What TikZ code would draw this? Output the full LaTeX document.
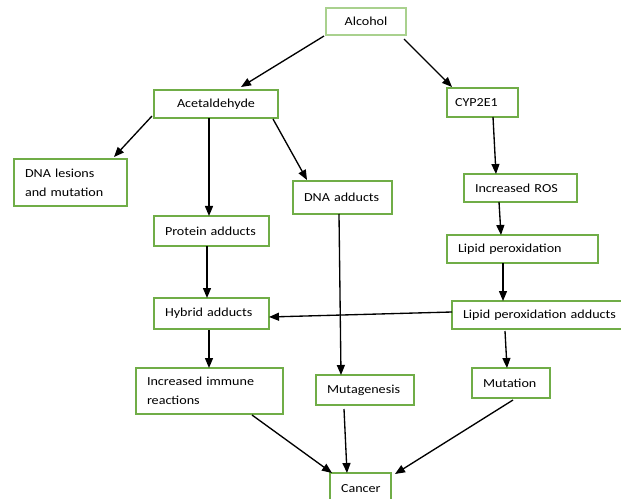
\documentclass[tikz,border=0pt]{standalone}
\usepackage{fontspec}
\setmainfont{Carlito}[FakeStretch=1.15]
\usetikzlibrary{calc,arrows.meta}
\newlength\pxu
\setlength\pxu{0.75pt}
\definecolor{boxgreen}{HTML}{70AD47}
\definecolor{lightgreen}{HTML}{A9D18E}
\tikzset{
  gbox/.style={draw=boxgreen, line width=1.5pt, anchor=north west, outer sep=0pt,
    inner xsep=8.25pt, inner ysep=0pt, align=left, text=black,
    font=\fontsize{9.2}{14.3}\selectfont},
  arr/.style={-{Triangle[length=7.5pt,width=6pt]}, line width=1pt, black}
}
\begin{document}
\begin{tikzpicture}[x=0.75pt,y=-0.75pt]
\useasboundingbox[fill=white] (0,0) rectangle (621,499);
\node[gbox, draw=lightgreen, minimum width=80\pxu, minimum height=27\pxu, align=center] (alc) at (326,8) {Alcohol};
\node[gbox, minimum width=124\pxu, minimum height=28\pxu, align=center] (acet) at (154,90) {Acetaldehyde};
\node[gbox, text width=55\pxu, minimum height=29\pxu, inner xsep=6pt] (cyp) at (447,88) {CYP2E1};
\node[gbox, text width=91\pxu, minimum height=47\pxu] (les) at (14,159) {DNA lesions\\and mutation};
\node[gbox, text width=93\pxu, minimum height=30\pxu] (prot) at (154,216) {Protein adducts};
\node[gbox, text width=77\pxu, minimum height=33\pxu] (dnaad) at (293,181) {DNA adducts};
\node[gbox, text width=91\pxu, minimum height=28\pxu] (ros) at (464,174) {Increased ROS};
\node[gbox, text width=129\pxu, minimum height=28\pxu] (lp) at (447,235) {Lipid peroxidation};
\node[gbox, text width=93\pxu, minimum height=31\pxu] (hyb) at (154,298) {Hybrid adducts};
\node[gbox, text width=153\pxu, minimum height=28\pxu] (lpa) at (452,301) {Lipid peroxidation adducts};
\node[gbox, text width=125\pxu, minimum height=46\pxu] (imm) at (136,368) {Increased immune\\reactions};
\node[gbox, text width=76\pxu, minimum height=30\pxu] (mutg) at (316,375) {Mutagenesis};
\node[gbox, text width=56\pxu, minimum height=30\pxu] (mut) at (472,368) {Mutation};
\node[gbox, text width=39\pxu, minimum height=32\pxu] (can) at (330,473) {Cancer};

\draw[arr] ($(alc.north west)+(-2,28)$) -- ($(acet.north west)+(87,-3)$);
\draw[arr] ($(alc.north west)+(78,31)$) -- ($(cyp.north west)+(5,-1)$);
\draw[arr] ($(acet.north west)+(-2,26)$) -- ($(les.north west)+(100,-2)$);
\draw[arr] ($(acet.north west)+(55,28)$) -- ($(prot.north west)+(55,0)$);
\draw[arr] ($(acet.north west)+(119,29)$) -- ($(dnaad.north west)+(14,-1)$);
\draw[arr] ($(cyp.north west)+(46,29)$) -- ($(ros.north west)+(32,0)$);
\draw[arr] ($(ros.north west)+(35,28)$) -- ($(lp.north west)+(54,0)$);
\draw[arr] ($(prot.north west)+(53,30)$) -- ($(hyb.north west)+(53,0)$);
\draw[arr] ($(lp.north west)+(56,28)$) -- ($(lpa.north west)+(51,0)$);
\draw[arr] ($(lpa.north west)+(0,11)$) -- ($(hyb.north west)+(115,19)$);
\draw[arr] ($(dnaad.north west)+(46,33)$) -- ($(mutg.north west)+(25,0)$);
\draw[arr] ($(hyb.north west)+(55,32)$) -- ($(imm.north west)+(73,0)$);
\draw[arr] ($(lpa.north west)+(53,30)$) -- ($(mut.north west)+(35,0)$);
\draw[arr] ($(imm.north west)+(116,47)$) -- ($(can.north west)+(2,0)$);
\draw[arr] ($(mutg.north west)+(28,34)$) -- ($(can.north west)+(17,0)$);
\draw[arr] ($(mut.north west)+(41,32)$) -- ($(can.north west)+(65,1)$);
\end{tikzpicture}
\end{document}
